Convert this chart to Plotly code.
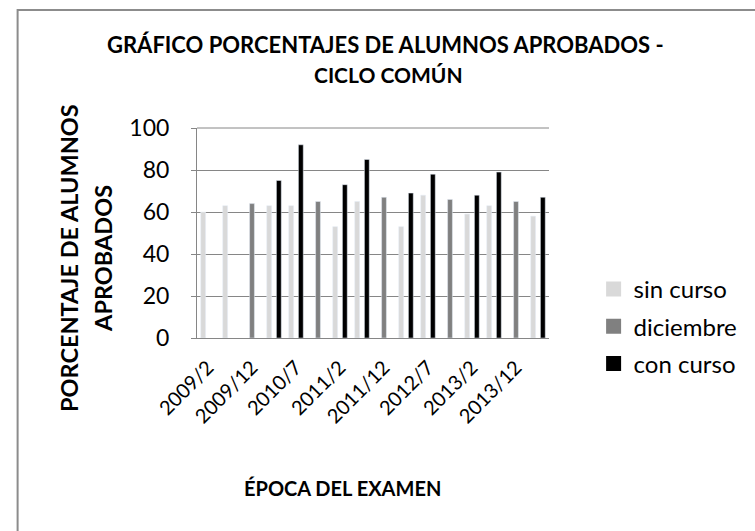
import plotly.graph_objects as go

categorias = ["2009/2", "2009/7", "2009/12", "2010/2", "2010/7", "2010/12",
              "2011/2", "2011/7", "2011/12", "2012/2", "2012/7", "2012/12",
              "2013/2", "2013/7", "2013/12", "2014/2"]
sin_curso = [60, 63, None, 63, 63, None, 53, 65, None, 53, 68, None, 59, 63, None, 58]
diciembre = [None, None, 64, None, None, 65, None, None, 67, None, None, 66, None, None, 65, None]
con_curso = [None, None, None, 75, 92, None, 73, 85, None, 69, 78, None, 68, 79, None, 67]
etiquetas_x = categorias[::2]

series = [("sin curso", sin_curso, "#d9d9d9"),
          ("diciembre", diciembre, "#808080"),
          ("con curso", con_curso, "#000000")]

FONT = "Lato"
W, H = 755, 531
L, R, T, B = 197, 560, 128, 338

def px(x):
    return (x - L) / (R - L)

def py(y):
    return (B - y) / (B - T)

fig = go.Figure()
for nombre, valores, color in series:
    fig.add_bar(x=categorias, y=valores, name=nombre, marker_color=color,
                showlegend=False)
for i, (nombre, valores, color) in enumerate(series):
    fig.add_scatter(x=[None], y=[None], mode="markers", name=nombre,
                    marker=dict(symbol="square", size=15, color=color),
                    legendgroup="g%d" % i, showlegend=True)

fig.update_layout(
    width=W, height=H,
    margin=dict(l=L, r=W - R, t=T, b=H - B, pad=0),
    paper_bgcolor="white", plot_bgcolor="white",
    barmode="group", bargap=0.34, bargroupgap=0,
    font=dict(family=FONT, color="black"),
    showlegend=True,
    legend=dict(x=px(606), y=py(267), xanchor="left", yanchor="top",
                font=dict(size=24, family=FONT), tracegroupgap=3,
                bgcolor="rgba(0,0,0,0)"),
)

fig.update_xaxes(
    type="category", tickmode="array", tickvals=etiquetas_x, ticktext=etiquetas_x,
    tickangle=-45, tickfont=dict(size=20, family=FONT),
    showline=True, linecolor="#868686", linewidth=1, showgrid=False,
    ticks="", ticklabelstandoff=9,
)
fig.update_yaxes(
    range=[0, 100], dtick=20, tickfont=dict(size=23, family=FONT),
    showline=True, linecolor="#868686", linewidth=1,
    showgrid=True, gridcolor="#868686", gridwidth=1,
    ticks="outside", ticklen=5, tickcolor="#868686", ticklabelstandoff=17,
    zeroline=False,
)
fig.add_shape(type="line", xref="paper", yref="paper", x0=0, x1=1, y0=1, y1=1,
              line=dict(color="#868686", width=1), layer="below")

annots = [
    ("GRÁFICO PORCENTAJES DE ALUMNOS APROBADOS -", 391, 44, 0, 22),
    ("CICLO COMÚN", 394, 74, 0, 21),
    ("PORCENTAJE DE ALUMNOS", 65, 258, -90, 23.5),
    ("APROBADOS", 100, 258, -90, 23.5),
    ("ÉPOCA DEL EXAMEN", 347, 488, 0, 20),
]
for txt, x, y, ang, sz in annots:
    fig.add_annotation(text="<b>%s</b>" % txt, xref="paper", yref="paper",
                       x=px(x), y=py(y), xanchor="center", yanchor="middle",
                       showarrow=False, textangle=ang,
                       font=dict(size=sz, family=FONT, color="black"))

fig.add_shape(type="rect", xref="paper", yref="paper",
              x0=px(12), x1=px(775), y0=py(10), y1=py(550),
              line=dict(color="#8c8c8c", width=2), fillcolor="rgba(0,0,0,0)")

fig.write_html("out.html", config={"displayModeBar": False},
               post_script="document.body.style.margin='0';document.body.style.overflow='hidden';")
